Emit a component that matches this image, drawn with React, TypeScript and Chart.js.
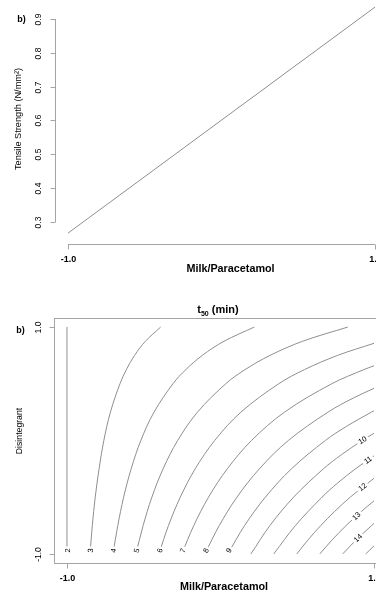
import React, { useEffect, useRef } from "react";
import { Chart, registerables } from "chart.js";

Chart.register(...registerables);

// ---------- Top panel: Tensile Strength vs Milk/Paracetamol ----------
const milkLevels = [-1, 0, 1];
const tensileStrength = [0.267, 0.601, 0.935];
const tensileTicks = [0.3, 0.4, 0.5, 0.6, 0.7, 0.8, 0.9];
const milkTicks = [-1, 1];

// ---------- Bottom panel: t50 (min) contour plot ----------
const disintegrantTicks = [-1, 1];
const contour2: [number, number][] = [[-1, -1], [-1, 1]];
const contour3: [number, number][] = [[-0.85, -1], [-0.835, -0.75], [-0.816, -0.5], [-0.791, -0.25], [-0.76, 0], [-0.717, 0.25], [-0.655, 0.5], [-0.613, 0.625], [-0.56, 0.75], [-0.489, 0.875], [-0.39, 1]];
const contour4: [number, number][] = [[-0.701, -1], [-0.669, -0.75], [-0.631, -0.5], [-0.582, -0.25], [-0.519, 0], [-0.433, 0.25], [-0.31, 0.5], [-0.226, 0.625], [-0.119, 0.75], [0.023, 0.875], [0.22, 1]];
const contour5: [number, number][] = [[-0.551, -1], [-0.504, -0.75], [-0.447, -0.5], [-0.374, -0.25], [-0.279, 0], [-0.15, 0.25], [0.034, 0.5], [0.16, 0.625], [0.322, 0.75], [0.535, 0.875], [0.829, 1]];
const contour6: [number, number][] = [[-0.401, -1], [-0.339, -0.75], [-0.262, -0.5], [-0.165, -0.25], [-0.038, 0], [0.133, 0.25], [0.379, 0.5], [0.547, 0.625], [0.762, 0.75], [1, 0.857]];
const contour7: [number, number][] = [[-0.252, -1], [-0.174, -0.75], [-0.078, -0.5], [0.044, -0.25], [0.202, 0], [0.417, 0.25], [0.724, 0.5], [0.934, 0.625], [1, 0.659]];
const contour8: [number, number][] = [[-0.102, -1], [-0.008, -0.75], [0.107, -0.5], [0.253, -0.25], [0.442, 0], [0.7, 0.25], [0.866, 0.375], [1, 0.46]];
const contour9: [number, number][] = [[0.048, -1], [0.157, -0.75], [0.292, -0.5], [0.462, -0.25], [0.683, 0], [0.821, 0.125], [0.983, 0.25], [1, 0.262]];
const contour10: [number, number][] = [[0.198, -1], [0.322, -0.75], [0.476, -0.5], [0.67, -0.25], [0.788, -0.125], [0.923, 0], [1, 0.0635]];
const contour11: [number, number][] = [[0.347, -1], [0.488, -0.75], [0.661, -0.5], [0.763, -0.375], [0.879, -0.25], [1, -0.135]];
const contour12: [number, number][] = [[0.497, -1], [0.571, -0.875], [0.653, -0.75], [0.744, -0.625], [0.845, -0.5], [1, -0.333]];
const contour13: [number, number][] = [[0.647, -1], [0.728, -0.875], [0.818, -0.75], [0.918, -0.625], [1, -0.532]];
const contour14: [number, number][] = [[0.796, -1], [0.885, -0.875], [0.984, -0.75], [1, -0.73]];
const contour15: [number, number][] = [[0.946, -1], [1, -0.929]];

const contourLevels = [2, 3, 4, 5, 6, 7, 8, 9, 10, 11, 12, 13, 14, 15];
const contourLines = [contour2, contour3, contour4, contour5, contour6, contour7, contour8, contour9, contour10, contour11, contour12, contour13, contour14, contour15];

const labelLevels = [2, 3, 4, 5, 6, 7, 8, 9, 10, 11, 12, 13, 14];
const labelX = [-1, -0.848, -0.698, -0.547, -0.396, -0.246, -0.095, 0.055, 0.925, 0.96, 0.925, 0.885, 0.895];
const labelY = [-0.97, -0.97, -0.97, -0.97, -0.97, -0.97, -0.97, -0.97, 0.004, -0.172, -0.41, -0.665, -0.859];

// ---------- styling ----------
const FONT = '"Liberation Sans", Arial, Helvetica, sans-serif';
const AXIS_COLOR = "#a4a4a4";
const LINE_COLOR = "#8e8e8e";
const TEXT_COLOR = "#000000";

function txt(ctx: CanvasRenderingContext2D, s: string, x: number, y: number, font: string, angle = 0) {
  ctx.save();
  ctx.translate(x, y);
  ctx.rotate(angle);
  ctx.font = font;
  ctx.fillStyle = TEXT_COLOR;
  ctx.textAlign = "center";
  ctx.textBaseline = "middle";
  ctx.fillText(s, 0, 0);
  ctx.restore();
}

function seg(ctx: CanvasRenderingContext2D, x1: number, y1: number, x2: number, y2: number) {
  ctx.beginPath();
  ctx.moveTo(x1, y1);
  ctx.lineTo(x2, y2);
  ctx.stroke();
}

const topDecor = {
  id: "topDecor",
  afterDraw(chart: any) {
    const { ctx, chartArea, scales } = chart;
    const xs = scales.x;
    const ys = scales.y;
    ctx.save();
    ctx.strokeStyle = AXIS_COLOR;
    ctx.lineWidth = 1;
    // y axis
    const ax = Math.floor(chartArea.left) + 0.5;
    seg(ctx, ax, ys.getPixelForValue(tensileTicks[0]), ax, ys.getPixelForValue(tensileTicks[tensileTicks.length - 1]));
    tensileTicks.forEach((t) => {
      const p = Math.round(ys.getPixelForValue(t)) + 0.5;
      seg(ctx, ax, p, ax - 5, p);
      txt(ctx, t.toFixed(1), 38.5, p, `8.5px ${FONT}`, -Math.PI / 2);
    });
    // x axis
    const ay = Math.floor(chartArea.bottom) + 0.5;
    seg(ctx, xs.getPixelForValue(milkTicks[0]), ay, xs.getPixelForValue(milkTicks[milkTicks.length - 1]), ay);
    milkTicks.forEach((t) => {
      const p = Math.round(xs.getPixelForValue(t)) + 0.5;
      seg(ctx, p, ay, p, ay + 5);
      txt(ctx, t.toFixed(1), p, 259.5, `bold 9px ${FONT}`);
    });
    txt(ctx, "Milk/Paracetamol", 230.5, 269, `bold 10.8px ${FONT}`);
    txt(ctx, "Tensile Strength (N/mm²)", 18, 119, `9.2px ${FONT}`, -Math.PI / 2);
    txt(ctx, "b)", 21.5, 20, `bold 9px ${FONT}`);
    ctx.restore();
  },
};

function distToSeg(px: number, py: number, ax: number, ay: number, bx: number, by: number) {
  const dx = bx - ax, dy = by - ay;
  const l2 = dx * dx + dy * dy || 1;
  let t = ((px - ax) * dx + (py - ay) * dy) / l2;
  t = Math.max(0, Math.min(1, t));
  const qx = ax + t * dx, qy = ay + t * dy;
  return Math.hypot(px - qx, py - qy);
}

const bottomDecor = {
  id: "bottomDecor",
  afterDatasetsDraw(chart: any) {
    const { ctx, scales } = chart;
    const xs = scales.x;
    const ys = scales.y;
    ctx.save();
    ctx.font = `7.5px ${FONT}`;
    labelLevels.forEach((lev, i) => {
      const di = contourLevels.indexOf(lev);
      const pts = chart.getDatasetMeta(di).data;
      const lx = xs.getPixelForValue(labelX[i]);
      const ly = ys.getPixelForValue(labelY[i]);
      let best = Infinity;
      let ang = -Math.PI / 2;
      for (let j = 0; j < pts.length - 1; j++) {
        const d = distToSeg(lx, ly, pts[j].x, pts[j].y, pts[j + 1].x, pts[j + 1].y);
        if (d < best) {
          best = d;
          ang = Math.atan2(pts[j + 1].y - pts[j].y, pts[j + 1].x - pts[j].x);
        }
      }
      if (ang > Math.PI / 2) ang -= Math.PI;
      if (ang < -Math.PI / 2) ang += Math.PI;
      const s = String(lev);
      ctx.save();
      ctx.translate(lx, ly);
      ctx.rotate(ang);
      const w = ctx.measureText(s).width;
      ctx.fillStyle = "#ffffff";
      ctx.fillRect(-w / 2 - 2, -4, w + 4, 8);
      ctx.fillStyle = TEXT_COLOR;
      ctx.textAlign = "center";
      ctx.textBaseline = "middle";
      ctx.fillText(s, 0, 0.5);
      ctx.restore();
    });
    ctx.restore();
  },
  afterDraw(chart: any) {
    const { ctx, chartArea, scales } = chart;
    const xs = scales.x;
    const ys = scales.y;
    ctx.save();
    ctx.strokeStyle = AXIS_COLOR;
    ctx.lineWidth = 1;
    const l = Math.floor(chartArea.left) + 0.5;
    const t = Math.floor(chartArea.top) + 0.5;
    const r = Math.floor(chartArea.right) + 0.5;
    const b = Math.floor(chartArea.bottom) + 0.5;
    ctx.strokeRect(l, t, r - l, b - t);
    disintegrantTicks.forEach((v) => {
      const p = Math.round(ys.getPixelForValue(v)) + 0.5;
      seg(ctx, l, p, l - 5, p);
      txt(ctx, v.toFixed(1), 38.6, p, `8.5px ${FONT}`, -Math.PI / 2);
    });
    milkTicks.forEach((v) => {
      const p = Math.round(xs.getPixelForValue(v)) + 0.5;
      seg(ctx, p, b, p, b + 5);
      txt(ctx, v.toFixed(1), p, 286.5, `bold 9px ${FONT}`);
    });
    txt(ctx, "Milk/Paracetamol", 224, 295.5, `bold 10.8px ${FONT}`);
    txt(ctx, "Disintegrant", 19.5, 139, `8.7px ${FONT}`, -Math.PI / 2);
    txt(ctx, "b)", 20.5, 39, `bold 9px ${FONT}`);
    // title t50 (min)
    const f1 = `bold 11px ${FONT}`;
    const f2 = `bold 7px ${FONT}`;
    ctx.font = f1;
    const wT = ctx.measureText("t").width;
    const wR = ctx.measureText(" (min)").width;
    ctx.font = f2;
    const wS = ctx.measureText("50").width;
    let x0 = 218 - (wT + wS + wR) / 2;
    ctx.fillStyle = TEXT_COLOR;
    ctx.textAlign = "left";
    ctx.textBaseline = "alphabetic";
    ctx.font = f1;
    ctx.fillText("t", x0, 21);
    x0 += wT;
    ctx.font = f2;
    ctx.fillText("50", x0, 23.5);
    x0 += wS;
    ctx.font = f1;
    ctx.fillText(" (min)", x0, 21);
    ctx.restore();
  },
};

function TopChart() {
  const ref = useRef<HTMLCanvasElement | null>(null);
  useEffect(() => {
    if (!ref.current) return;
    const chart = new Chart(ref.current, {
      type: "scatter",
      data: {
        datasets: [
          {
            data: milkLevels.map((x, i) => ({ x, y: tensileStrength[i] })),
            showLine: true,
            borderColor: LINE_COLOR,
            borderWidth: 1,
            pointRadius: 0,
            tension: 0,
          },
        ],
      },
      options: {
        animation: false,
        responsive: false,
        events: [],
        layout: { padding: { left: 55.7, right: 12.7, top: 0, bottom: 48 } },
        scales: {
          x: { type: "linear", min: -1.08, max: 1.08, display: false },
          y: { type: "linear", min: 0.235, max: 0.956, display: false },
        },
        plugins: { legend: { display: false }, tooltip: { enabled: false } },
      },
      plugins: [topDecor],
    } as any);
    return () => chart.destroy();
  }, []);
  return <canvas ref={ref} width={400} height={292} style={{ position: "absolute", left: 0, top: 0 }} />;
}

function BottomChart() {
  const ref = useRef<HTMLCanvasElement | null>(null);
  useEffect(() => {
    if (!ref.current) return;
    const chart = new Chart(ref.current, {
      type: "scatter",
      data: {
        datasets: contourLines.map((line, i) => ({
          label: String(contourLevels[i]),
          data: line.map(([x, y]) => ({ x, y })),
          showLine: true,
          borderColor: LINE_COLOR,
          borderWidth: 1,
          pointRadius: 0,
          tension: 0.35,
        })),
      },
      options: {
        animation: false,
        responsive: false,
        events: [],
        layout: { padding: { left: 54.7, right: 13.7, top: 26, bottom: 29 } },
        scales: {
          x: { type: "linear", min: -1.08, max: 1.08, display: false },
          y: { type: "linear", min: -1.08, max: 1.08, display: false },
        },
        plugins: { legend: { display: false }, tooltip: { enabled: false } },
      },
      plugins: [bottomDecor],
    } as any);
    return () => chart.destroy();
  }, []);
  return <canvas ref={ref} width={400} height={300} style={{ position: "absolute", left: 0, top: 292 }} />;
}

export default function App() {
  return (
    <div
      style={{
        position: "fixed",
        left: 0,
        top: 0,
        width: 376,
        height: 592,
        overflow: "hidden",
        background: "#ffffff",
      }}
    >
      <TopChart />
      <BottomChart />
    </div>
  );
}
